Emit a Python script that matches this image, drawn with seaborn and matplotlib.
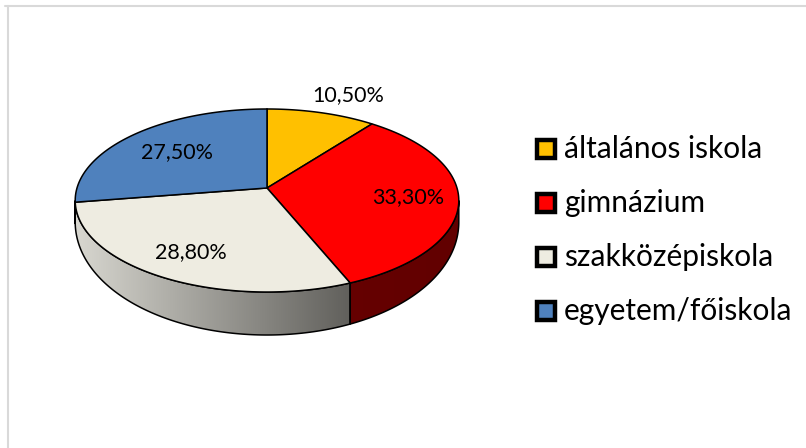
import numpy as np
import matplotlib
matplotlib.use("Agg")
import matplotlib.pyplot as plt
import seaborn as sns
from matplotlib.patches import Polygon, Rectangle
from matplotlib.lines import Line2D
from matplotlib.colors import to_rgb

# ---- data ----
categories = ["általános iskola", "gimnázium", "szakközépiskola", "egyetem/főiskola"]
values = [10.5, 33.3, 28.8, 27.5]
value_labels = ["10,50%", "33,30%", "28,80%", "27,50%"]
top_colors = ["#FFC000", "#FF0000", "#EEECE1", "#4F81BD"]
side_left = ["#B08400", "#6E0000", "#D8D7D0", "#2F4F75"]
side_right = ["#906C00", "#620000", "#32312E", "#25405F"]
label_radius = [1.27, 0.74, 0.75, 0.66]
label_nudge = [14, 0, 0, 0]

sns.set_theme(style="white")
plt.rcParams['font.family'] = ['Lato', 'DejaVu Sans']

fig = plt.figure(figsize=(8.06, 4.48), dpi=100)
ax = fig.add_axes([0, 0, 1, 1])
ax.set_xlim(0, 806)
ax.set_ylim(448, 0)
ax.axis('off')

# chart-area frame (top and left visible)
ax.add_line(Line2D([5, 806], [6.5, 6.5], color="#D9D9D9", lw=1.5))
ax.add_line(Line2D([8, 8], [6.5, 448], color="#D9D9D9", lw=1.5))

# ---- perspective ellipse geometry ----
CX, CY = 267.0, 188.0
A, B, K = 190.0, 89.8, 0.1366
D0, D1 = 18.0, 25.0


def proj(theta_deg, r=1.0):
    t = np.radians(theta_deg)
    X = r * np.sin(t)
    Y = r * np.cos(t)
    w = 1 + K * Y
    return CX + A * X / w, CY - B * Y / w


def proj_bottom(theta_deg):
    x, y = proj(theta_deg)
    return x, y + D0 + D1 * (-np.cos(np.radians(theta_deg)))


total = float(np.sum(values))
bounds = np.concatenate([[0], np.cumsum(values)]) / total * 360.0

# visible side range (silhouette)
th_r = np.degrees(np.arccos(-K))
th_l = 360 - th_r

# ---- sides (gradient images clipped to side polygons) ----
for i in range(len(values)):
    a0, a1 = max(bounds[i], th_r), min(bounds[i + 1], th_l)
    if a1 <= a0:
        continue
    ths = np.linspace(a0, a1, 200)
    top = [proj(t) for t in ths]
    bot = [proj_bottom(t) for t in ths[::-1]]
    poly = Polygon(top + bot, closed=True, facecolor="none",
                   edgecolor="black", lw=1.1, zorder=3)
    cl, cr = np.array(to_rgb(side_left[i])), np.array(to_rgb(side_right[i]))
    tx = np.linspace(0, 1, 256)
    grad = cl[None, :] + (cr - cl)[None, :] * tx[:, None]
    img = np.repeat(grad[None, :, :], 2, axis=0)
    im = ax.imshow(img, extent=[CX - A - 2, CX + A + 2, 448, 0],
                   aspect="auto", interpolation="bilinear", zorder=2)
    clip = Polygon(top + bot, closed=True, facecolor="none", edgecolor="none",
                   transform=ax.transData)
    ax.add_patch(clip)
    im.set_clip_path(clip)
    ax.add_patch(poly)

ax.set_xlim(0, 806)
ax.set_ylim(448, 0)

# ---- top face ----
for i in range(len(values)):
    ths = np.linspace(bounds[i], bounds[i + 1], 200)
    pts = [(CX, CY)] + [proj(t) for t in ths]
    ax.add_patch(Polygon(pts, closed=True, facecolor=top_colors[i],
                         edgecolor="black", lw=1.1, zorder=4))

# ---- value labels ----
for i in range(len(values)):
    mid = (bounds[i] + bounds[i + 1]) / 2
    x, y = proj(mid, label_radius[i])
    ax.text(x + label_nudge[i], y, value_labels[i], ha="center", va="center",
            fontsize=15.5, color="black", zorder=6)

# ---- legend ----
lx, ly0, dy, sz = 537, 149, 54, 18
for i, cat in enumerate(categories):
    yc = ly0 + i * dy
    ax.add_patch(Rectangle((lx, yc - sz / 2), sz, sz, facecolor=top_colors[i],
                           edgecolor="black", lw=3.2, zorder=6))
    ax.text(lx + sz + 9, yc, cat, ha="left", va="center", fontsize=21.5,
            color="black", zorder=6)

fig.savefig("out.png", dpi=100)
